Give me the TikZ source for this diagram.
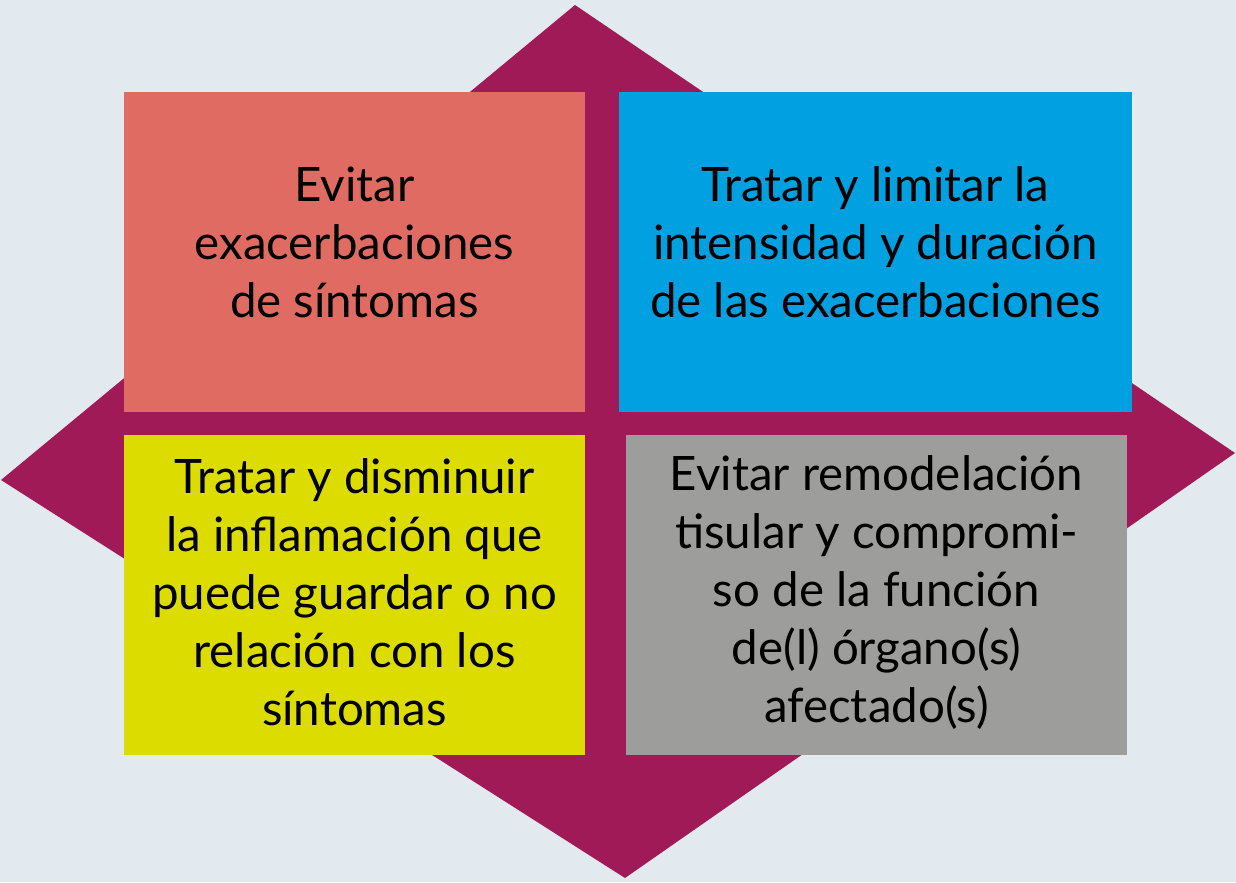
\documentclass[tikz,border=0pt]{standalone}
\usepackage{fontspec}
\setmainfont{Lato}
\usepackage{xcolor}
\usetikzlibrary{positioning}

\definecolor{fondo}{HTML}{E2EAF0}
\definecolor{rombo}{HTML}{A01A58}
\definecolor{rojo}{HTML}{DF6B62}
\definecolor{azul}{HTML}{00A0E1}
\definecolor{amarillo}{HTML}{DDDC00}
\definecolor{gris}{HTML}{9D9D9C}

\tikzset{
  caja/.style={rectangle, inner sep=0pt, minimum height=6.4cm},
  texto/.style={align=center, text=black, font=\fontsize{27}{33}\selectfont}
}

\begin{document}
\begin{tikzpicture}[x=0.02cm, y=-0.02cm]
        \fill[fondo] (0,0) rectangle (1236,882);
        \useasboundingbox (0,0) rectangle (1236,882);

        % rombo de fondo
        \coordinate (n) at (575,5);
        \coordinate (e) at (1235,453);
        \coordinate (s) at (625,878);
        \coordinate (w) at (1,480);
        \fill[rombo] (n) -- (e) -- (s) -- (w) -- cycle;

        % cajas
        \node[caja, fill=rojo, minimum width=9.22cm] (A) at (354.5,252) {};
        \node[caja, fill=azul, minimum width=10.26cm] (B) at (875.5,252) {};
        \node[caja, fill=amarillo, minimum width=9.22cm] (C) at (354.5,595) {};
        \node[caja, fill=gris, minimum width=10.02cm] (D) at (876.5,595) {};

        % textos
        \node[texto] (tA) at ([yshift=0.2cm]A.center) {Evitar\\exacerbaciones\\de síntomas};
        \node[texto] (tB) at ([yshift=0.2cm]B.center) {Tratar y limitar la\\intensidad y duración\\de las exacerbaciones};
        \node[texto] (tC) at ([yshift=0.05cm]C.center) {Tratar y disminuir\\la inflamación que\\puede guardar o no\\relación con los\\síntomas};
        \node[texto] (tD) at ([yshift=0.05cm]D.center) {Evitar remodelación\\tisular y compromi-\\so de la función\\de(l) órgano(s)\\afectado(s)};

\end{tikzpicture}
\end{document}
